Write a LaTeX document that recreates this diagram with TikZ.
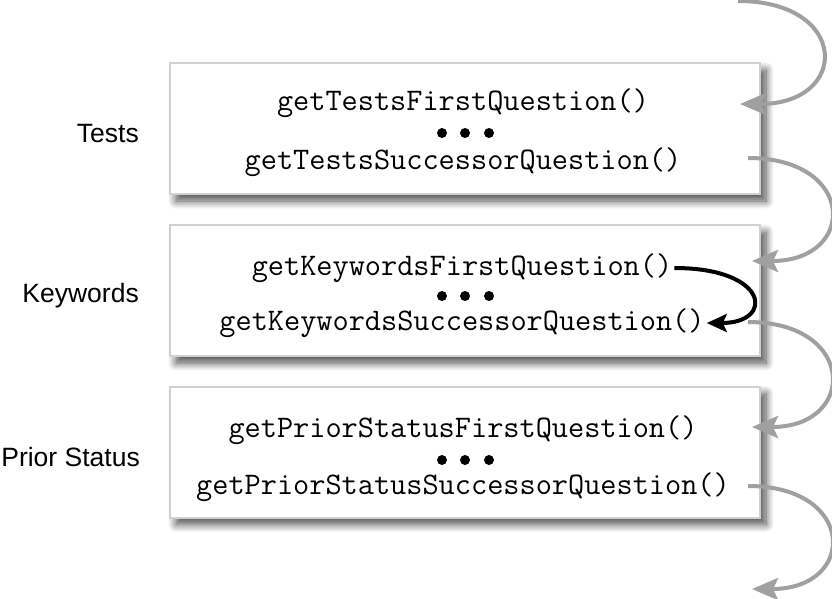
\documentclass[tikz,border=0pt]{standalone}
\usepackage{fontspec}
\setmainfont{Liberation Sans}
\usetikzlibrary{arrows.meta,shadows.blur}
\definecolor{flowgray}{HTML}{A0A0A0}
\definecolor{boxline}{HTML}{D0D0D0}
\tikzset{
  qbox/.style={draw=boxline, line width=2pt, fill=white,
    minimum width=590pt, minimum height=131pt,
    blur shadow={shadow xshift=6pt, shadow yshift=-7pt,
      shadow blur radius=8pt, shadow blur steps=10, shadow opacity=70}},
  qcall/.style={font=\fontsize{31.4}{33}\selectfont\ttfamily, inner sep=2pt},
  qlabel/.style={font=\fontsize{26.5}{28}\selectfont, anchor=east, inner sep=0pt},
  flow/.style={flowgray, line width=4pt, -{Stealth[length=26pt,width=22pt,inset=5pt]}},
  jump/.style={black, line width=4pt, -{Stealth[length=20pt,width=18pt,inset=4pt]}},
}
\begin{document}
\begin{tikzpicture}[x=1pt,y=-1pt]
  \useasboundingbox (0,0) rectangle (832,598);
  % Boxes
  \node[qbox] (tests)    at (465,128.5) {};
  \node[qbox] (keywords) at (465,290.5) {};
  \node[qbox] (prior)    at (465,452)   {};
  % Labels
  \node[qlabel] (testslbl)    at (139,134) {Tests};
  \node[qlabel] (keywordslbl) at (139,296) {Keywords};
  \node[qlabel] (priorlbl)    at (140,457) {Prior Status};
  % Calls
  \node[qcall] (testsfirst)    at (463,103) {getTestsFirstQuestion()};
  \node[qcall] (testssucc)     at (463,162) {getTestsSuccessorQuestion()};
  \node[qcall] (keywordsfirst) at (462,268) {getKeywordsFirstQuestion()};
  \node[qcall] (keywordssucc)  at (462,323) {getKeywordsSuccessorQuestion()};
  \node[qcall] (priorfirst)    at (463,430) {getPriorStatusFirstQuestion()};
  \node[qcall] (priorsucc)     at (463,487) {getPriorStatusSuccessorQuestion()};
  % Dots
  \fill (442,133) circle (5);
  \fill (465,133) circle (5);
  \fill (489,133) circle (5);
  \fill (442,296) circle (5);
  \fill (465,296) circle (5);
  \fill (489,296) circle (5);
  \fill (442,460) circle (5);
  \fill (465,460) circle (5);
  \fill (489,460) circle (5);
  % Flow between boxes
  \coordinate (in0)  at (738,1);
  \coordinate (out0) at (740,104);
  \coordinate (in1)  at (748,158);
  \coordinate (out1) at (752,261);
  \coordinate (in2)  at (748,322);
  \coordinate (out2) at (752,427);
  \coordinate (in3)  at (748,486);
  \coordinate (out3) at (752,589);
  \draw[flow] (in0) .. controls (850,1) and (850,104) .. (out0);
  \draw[flow] (in1) .. controls (857,158) and (857,261) .. (out1);
  \draw[flow] (in2) .. controls (857,322) and (857,427) .. (out2);
  \draw[flow] (in3) .. controls (857,486) and (857,589) .. (out3);
  % Jump inside keywords
  \draw[jump] (keywordsfirst.east) .. controls +(95,0) and +(68,0) .. (keywordssucc.east);
\end{tikzpicture}
\end{document}
